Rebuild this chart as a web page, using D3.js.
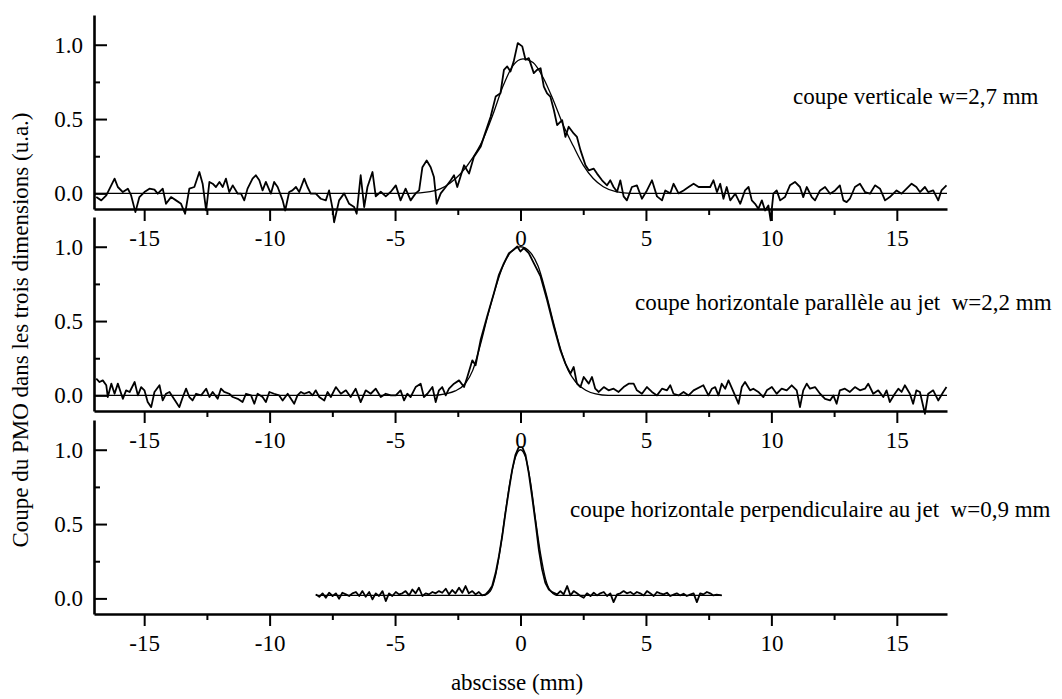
<!DOCTYPE html>
<html>
<head>
<meta charset="utf-8">
<script src="https://cdn.jsdelivr.net/npm/d3@7"></script>
<style>
    html, body { margin: 0; padding: 0; background: #fff; }
    svg text { font-family: "Liberation Serif", "Times New Roman", serif; fill: #000; }
</style>
</head>
<body>
<svg id="profiles"></svg>
<script>
// values: [abscisse (mm), signal (u.a.)]
const panelTitles = [
    'coupe verticale w=2,7 mm',
    'coupe horizontale parallèle au jet\u00a0 w=2,2 mm',
    'coupe horizontale perpendiculaire au jet\u00a0 w=0,9 mm'
];
const xMajorTicks = [-15, -10, -5, 0, 5, 10, 15];
const xMinorTicks = [-12.5, -7.5, -2.5, 2.5, 7.5, 12.5];
const yMajorTicks = [0, 0.5, 1.0];
const yMinorTicks = [0.25, 0.75];
const xDomain = [-17, 17];
const yDomain = [-0.105, 1.2];

const verticaleSignal = [
    [-16.91,-0.025],[-16.71,-0.047],[-16.51,-0.014],[-16.18,0.099],[-16.05,0.043],[-15.85,0.009],[-15.65,0.032],[-15.52,-0.014],
    [-15.35,-0.126],[-15.19,-0.025],[-14.99,0.009],[-14.79,0.032],[-14.59,0.025],[-14.46,-0.002],[-14.26,0.032],[-14.13,-0.07],
    [-13.93,-0.025],[-13.73,-0.047],[-13.53,-0.07],[-13.37,-0.137],[-13.2,0.032],[-13.0,0.043],[-12.8,0.144],[-12.67,0.065],
    [-12.53,-0.115],[-12.4,0.077],[-12.27,0.065],[-12.14,0.043],[-12.0,0.077],[-11.87,0.043],[-11.74,0.099],[-11.61,0.009],
    [-11.47,0.054],[-11.27,-0.002],[-11.14,-0.002],[-11.01,-0.047],[-10.88,0.032],[-10.68,0.099],[-10.55,0.122],[-10.41,0.088],
    [-10.28,0.02],[-10.15,0.077],[-9.95,-0.002],[-9.82,0.077],[-9.68,0.043],[-9.48,-0.047],[-9.38,-0.115],[-9.22,0.009],
    [-9.09,0.02],[-8.95,0.043],[-8.82,0.009],[-8.62,0.099],[-8.49,0.043],[-8.36,-0.002],[-8.16,-0.002],[-7.96,-0.036],
    [-7.76,-0.047],[-7.63,0.02],[-7.49,-0.104],[-7.43,-0.194],[-7.23,-0.047],[-7.03,0.0],[-6.83,-0.07],[-6.63,-0.092],
    [-6.53,-0.137],[-6.37,0.122],[-6.23,-0.092],[-6.1,0.043],[-5.9,0.144],[-5.77,-0.02],[-5.57,0.011],[-5.37,-0.02],
    [-5.17,0.011],[-4.97,0.054],[-4.78,-0.047],[-4.58,0.032],[-4.38,-0.047],[-4.18,0.0],[-4.04,0.02],[-3.91,0.176],
    [-3.74,0.221],[-3.58,0.176],[-3.45,0.11],[-3.34,-0.07],[-3.18,0.0],[-2.98,0.043],[-2.78,0.088],[-2.65,0.122],
    [-2.52,0.043],[-2.25,0.189],[-2.05,0.133],[-1.86,0.245],[-1.59,0.313],[-1.46,0.38],[-1.19,0.516],[-0.99,0.651],
    [-0.8,0.673],[-0.66,0.831],[-0.53,0.854],[-0.4,0.82],[-0.27,0.888],[-0.11,1.011],[0.07,0.989],[0.2,0.899],
    [0.33,0.91],[0.53,0.809],[0.66,0.831],[0.8,0.842],[0.93,0.718],[1.06,0.673],[1.19,0.651],[1.33,0.561],
    [1.46,0.459],[1.66,0.493],[1.79,0.38],[1.92,0.448],[2.12,0.403],[2.25,0.38],[2.39,0.291],[2.59,0.189],
    [2.72,0.155],[2.92,0.166],[3.05,0.133],[3.25,0.088],[3.45,0.054],[3.58,0.088],[3.71,0.043],[3.85,0.011],
    [3.98,0.088],[4.11,-0.02],[4.24,-0.047],[4.44,0.043],[4.64,0.054],[4.84,-0.036],[5.04,0.02],[5.24,0.088],
    [5.44,-0.02],[5.64,-0.047],[5.77,0.02],[5.97,0.0],[6.1,0.065],[6.3,0.0],[6.5,0.02],[6.7,0.043],
    [6.9,0.065],[7.1,0.043],[7.36,0.043],[7.56,0.043],[7.69,0.088],[7.83,0.009],[7.96,0.065],[8.09,-0.036],
    [8.22,0.043],[8.36,-0.047],[8.56,-0.002],[8.76,-0.07],[8.95,0.02],[9.09,0.043],[9.22,-0.047],[9.35,-0.07],
    [9.48,-0.104],[9.62,-0.047],[9.75,-0.115],[9.88,-0.081],[9.97,-0.182],[10.08,-0.002],[10.21,0.02],[10.35,-0.047],
    [10.54,-0.025],[10.74,0.054],[10.94,0.077],[11.14,0.043],[11.27,-0.025],[11.41,0.043],[11.61,-0.025],[11.74,-0.047],
    [11.94,0.02],[12.14,0.043],[12.34,-0.002],[12.54,0.02],[12.73,0.054],[12.87,-0.047],[13.0,-0.059],[13.13,-0.036],
    [13.33,0.043],[13.53,0.065],[13.73,0.009],[13.93,-0.002],[14.13,0.054],[14.33,0.032],[14.53,-0.047],[14.72,-0.025],
    [14.99,0.02],[15.19,-0.002],[15.39,0.032],[15.59,0.065],[15.78,0.043],[15.92,0.009],[16.12,0.043],[16.25,0.009],
    [16.45,0.02],[16.65,-0.047],[16.78,0.02],[16.98,0.054]
];
const verticaleFit = [
    [-17,0],[-4.4,0],[-3.6,0.012],[-3.2,0.03],[-2.8,0.07],[-2.4,0.13],[-1.9,0.24],[-1.5,0.36],[-1.1,0.53],
    [-0.7,0.72],[-0.3,0.86],[0.1,0.905],[0.5,0.88],[0.9,0.78],[1.3,0.63],[1.7,0.46],[2.1,0.32],[2.5,0.19],
    [2.9,0.1],[3.3,0.045],[3.8,0.012],[4.4,0],[17,0]
];

const paralleleSignal = [
    [-16.91,0.113],[-16.78,0.09],[-16.65,0.101],[-16.51,0.068],[-16.45,-0.011],[-16.31,0.079],[-16.18,0.011],[-16.05,0.079],
    [-15.85,-0.023],[-15.72,0.034],[-15.58,0.023],[-15.38,0.09],[-15.25,0.0],[-15.12,0.056],[-14.99,0.034],[-14.86,-0.045],
    [-14.72,-0.079],[-14.59,0.023],[-14.39,0.068],[-14.26,-0.034],[-14.13,0.011],[-13.99,0.023],[-13.86,-0.011],[-13.73,-0.045],
    [-13.6,-0.079],[-13.46,-0.011],[-13.33,0.045],[-13.2,-0.011],[-13.07,-0.034],[-12.93,0.011],[-12.73,0.0],[-12.53,0.045],
    [-12.4,-0.011],[-12.27,0.023],[-12.07,-0.023],[-11.94,0.045],[-11.81,0.023],[-11.61,0.011],[-11.47,-0.011],[-11.27,-0.023],
    [-11.08,-0.045],[-10.94,0.011],[-10.74,0.0],[-10.61,-0.056],[-10.48,0.011],[-10.28,-0.011],[-10.15,-0.045],[-10.01,0.023],
    [-9.82,0.011],[-9.62,0.0],[-9.48,-0.034],[-9.28,0.011],[-9.15,-0.023],[-9.02,-0.056],[-8.89,0.0],[-8.75,0.023],
    [-8.62,0.011],[-8.42,0.023],[-8.29,0.0],[-8.16,0.034],[-8.02,-0.011],[-7.82,-0.034],[-7.69,0.023],[-7.56,-0.011],
    [-7.36,0.056],[-7.16,0.011],[-6.96,0.034],[-6.77,-0.011],[-6.57,0.045],[-6.37,-0.045],[-6.17,0.034],[-5.97,0.011],
    [-5.77,0.045],[-5.57,-0.011],[-5.37,0.011],[-5.17,0.0],[-4.97,0.0],[-4.78,0.034],[-4.64,-0.034],[-4.51,0.011],
    [-4.38,-0.011],[-4.18,0.056],[-3.98,0.079],[-3.85,-0.011],[-3.71,0.011],[-3.51,0.056],[-3.38,-0.045],[-3.25,0.034],
    [-3.12,0.056],[-2.98,0.0],[-2.85,0.045],[-2.65,0.079],[-2.45,0.101],[-2.25,0.056],[-2.12,0.124],[-1.92,0.236],
    [-1.79,0.203],[-1.59,0.372],[-1.33,0.53],[-1.06,0.687],[-0.86,0.811],[-0.66,0.89],[-0.46,0.957],[-0.27,0.98],
    [-0.13,1.002],[0.0,0.968],[0.13,0.991],[0.33,0.957],[0.53,0.89],[0.8,0.8],[1.06,0.642],[1.33,0.462],
    [1.59,0.304],[1.79,0.214],[1.99,0.146],[2.12,0.191],[2.25,0.079],[2.39,0.056],[2.52,0.124],[2.72,0.079],
    [2.85,0.124],[2.98,0.045],[3.12,0.023],[3.32,0.056],[3.51,0.034],[3.71,0.045],[3.91,0.023],[4.11,0.056],
    [4.31,0.079],[4.51,0.079],[4.64,0.034],[4.84,0.011],[5.04,0.056],[5.24,0.023],[5.44,0.0],[5.64,0.045],
    [5.84,0.034],[5.97,0.068],[6.1,0.011],[6.3,0.0],[6.5,0.023],[6.7,0.0],[6.9,0.034],[7.29,0.068],
    [7.49,0.0],[7.63,0.045],[7.76,0.056],[7.89,0.0],[8.02,0.079],[8.16,0.045],[8.29,0.101],[8.49,0.023],
    [8.69,-0.056],[8.82,0.056],[8.95,0.09],[9.15,0.034],[9.28,0.045],[9.48,0.023],[9.68,-0.011],[9.82,0.034],
    [10.02,0.056],[10.21,0.011],[10.41,0.045],[10.61,0.034],[10.81,0.068],[11.01,0.034],[11.14,-0.079],[11.27,0.034],
    [11.41,0.079],[11.54,0.045],[11.74,0.056],[11.94,0.011],[12.14,-0.023],[12.34,-0.034],[12.47,0.0],[12.6,-0.056],
    [12.73,0.034],[12.93,0.045],[13.13,0.023],[13.33,0.056],[13.53,0.034],[13.73,0.045],[13.86,0.079],[14.06,0.011],
    [14.26,0.034],[14.46,-0.011],[14.59,0.034],[14.72,-0.045],[14.92,0.011],[15.06,0.045],[15.19,0.023],[15.32,0.068],
    [15.52,0.011],[15.65,-0.056],[15.78,0.034],[15.92,0.023],[16.12,-0.124],[16.25,0.011],[16.45,0.034],[16.65,-0.034],
    [16.85,0.023],[16.98,0.056]
];
const paralleleFit = [
    [-17,0],[-3.5,0],[-3.0,0.01],[-2.6,0.03],[-2.2,0.08],[-1.9,0.17],[-1.6,0.34],[-1.3,0.54],[-1.0,0.72],
    [-0.7,0.87],[-0.4,0.96],[0,1.0],[0.4,0.96],[0.7,0.87],[1.0,0.7],[1.3,0.5],[1.6,0.31],[1.9,0.17],
    [2.2,0.09],[2.6,0.035],[3.0,0.01],[3.5,0],[17,0]
];

const perpendSignal = [
    [-8.16,0.027],[-8.02,0.011],[-7.89,0.034],[-7.76,0.004],[-7.63,0.038],[-7.49,0.016],[-7.36,0.034],[-7.23,-0.002],
    [-7.1,0.038],[-6.96,0.027],[-6.83,0.016],[-6.7,0.034],[-6.56,0.043],[-6.43,0.016],[-6.3,0.049],[-6.17,0.011],
    [-6.03,0.043],[-5.9,-0.007],[-5.77,0.034],[-5.64,0.016],[-5.5,0.049],[-5.37,-0.018],[-5.24,0.034],[-5.11,0.016],
    [-4.97,0.043],[-4.84,0.027],[-4.71,0.034],[-4.58,0.049],[-4.44,0.02],[-4.31,0.06],[-4.18,0.034],[-4.05,0.072],
    [-3.91,0.016],[-3.78,0.034],[-3.65,0.027],[-3.51,0.043],[-3.38,0.034],[-3.25,0.049],[-3.12,0.038],[-2.98,0.065],
    [-2.85,0.027],[-2.72,0.056],[-2.59,0.034],[-2.45,0.072],[-2.32,0.038],[-2.19,0.083],[-2.06,0.034],[-1.92,0.049],
    [-1.79,0.027],[-1.66,0.043],[-1.53,0.02],[-1.39,0.027],[-1.26,0.05],[-1.13,0.083],[-0.99,0.172],[-0.86,0.284],
    [-0.73,0.418],[-0.6,0.575],[-0.46,0.732],[-0.33,0.866],[-0.2,0.966],[-0.07,1.018],[0.07,1.018],[0.2,0.966],
    [0.33,0.843],[0.46,0.687],[0.6,0.508],[0.73,0.329],[0.86,0.195],[0.99,0.105],[1.13,0.06],[1.26,0.042],
    [1.46,0.027],[1.59,0.049],[1.72,0.027],[1.86,0.083],[1.99,0.02],[2.12,0.049],[2.25,0.034],[2.39,0.016],
    [2.52,0.004],[2.65,0.034],[2.79,0.016],[2.92,0.038],[3.05,0.02],[3.18,0.034],[3.32,0.043],[3.45,0.016],
    [3.58,0.034],[3.71,-0.025],[3.85,0.027],[3.98,0.034],[4.11,0.049],[4.24,0.034],[4.38,0.043],[4.51,0.027],
    [4.64,0.043],[4.77,0.034],[4.91,0.02],[5.04,0.049],[5.17,0.034],[5.31,0.016],[5.44,0.043],[5.57,0.034],
    [5.7,0.027],[5.84,0.038],[5.97,0.016],[6.1,0.025],[6.23,0.034],[6.37,0.02],[6.5,0.031],[6.63,0.016],
    [6.76,0.025],[6.9,0.034],[7.03,-0.025],[7.16,0.034],[7.29,0.027],[7.43,0.043],[7.56,0.034],[7.69,0.02],
    [7.82,0.025],[8.02,0.02]
];
const perpendFit = [
    [-8.16,0.02],[-1.5,0.02],[-1.2,0.05],[-1.0,0.15],[-0.8,0.34],[-0.6,0.58],[-0.4,0.8],[-0.2,0.95],[0,1.0],
    [0.2,0.95],[0.4,0.78],[0.6,0.53],[0.8,0.3],[1.0,0.13],[1.2,0.05],[1.5,0.02],[8.02,0.02]
];

const WIDTH = 1062;
const HEIGHT = 699;
const LEFT = 94;
const RIGHT = 947;
const PANEL_TOPS = [15, 217, 420];
const PANEL_H = 194;
const FONT = 23;
const TITLE_POS = [{ x: 793, y: 104 }, { x: 635, y: 310 }, { x: 570, y: 517 }];

const panels = [
    { signal: verticaleSignal, fit: verticaleFit, title: panelTitles[0] },
    { signal: paralleleSignal, fit: paralleleFit, title: panelTitles[1] },
    { signal: perpendSignal, fit: perpendFit, title: panelTitles[2] }
];

const svg = d3.select('#profiles')
    .attr('width', WIDTH)
    .attr('height', HEIGHT);

let xScale = d3.scaleLinear().domain(xDomain).range([LEFT, RIGHT]);

panels.forEach((p, i) => {
    const top = PANEL_TOPS[i];
    let yScale = d3.scaleLinear().domain(yDomain).range([top + PANEL_H, top]);
    const g = svg.append('g');

    /** minor ticks first, main axes on top */
    g.append('g')
        .attr('transform', `translate(0, ${yScale(yDomain[0])})`)
        .call(d3.axisBottom(xScale).tickValues(xMinorTicks).tickSize(6).tickSizeOuter(0).tickFormat(''))
        .call(a => a.select('.domain').remove());

    g.append('g')
        .attr('transform', `translate(${LEFT}, 0)`)
        .call(d3.axisLeft(yScale).tickValues(yMinorTicks).tickSize(-6).tickSizeOuter(0).tickFormat(''))
        .call(a => a.select('.domain').remove());

    g.append('g')
        .attr('transform', `translate(0, ${yScale(yDomain[0])})`)
        .call(d3.axisBottom(xScale).tickValues(xMajorTicks).tickSize(12).tickSizeOuter(0).tickPadding(9)
            .tickFormat(d => String(d)));

    g.append('g')
        .attr('transform', `translate(${LEFT}, 0)`)
        .call(d3.axisLeft(yScale).tickValues(yMajorTicks).tickSize(-13).tickSizeOuter(0).tickPadding(11)
            .tickFormat(d3.format('.1f')));

    g.selectAll('.tick line').style('stroke', '#000').style('stroke-width', 2);
    g.selectAll('.domain').style('stroke', '#000').style('stroke-width', 2.6);
    g.selectAll('.tick text')
        .style('font-size', `${FONT}px`)
        .style('font-family', '"Liberation Serif", serif')
        .style('fill', '#000');

    /** fit curve (thin) and measured profile */
    g.append('path')
        .datum(p.fit)
        .attr('d', d3.line().x(d => xScale(d[0])).y(d => yScale(d[1])).curve(d3.curveMonotoneX))
        .style('fill', 'none')
        .style('stroke', '#000')
        .style('stroke-width', 1.3);

    g.append('path')
        .datum(p.signal)
        .attr('d', d3.line().x(d => xScale(d[0])).y(d => yScale(d[1])))
        .style('fill', 'none')
        .style('stroke', '#000')
        .style('stroke-width', 1.8)
        .style('stroke-linejoin', 'round');

    g.append('text')
        .attr('x', TITLE_POS[i].x)
        .attr('y', TITLE_POS[i].y)
        .style('font-size', `${FONT}px`)
        .text(p.title);
});

svg.append('text')
    .attr('transform', 'translate(28, 330) rotate(-90)')
    .attr('text-anchor', 'middle')
    .style('font-size', `${FONT}px`)
    .text('Coupe du PMO dans les trois dimensions (u.a.)');

svg.append('text')
    .attr('x', 517)
    .attr('y', 690)
    .attr('text-anchor', 'middle')
    .style('font-size', `${FONT}px`)
    .text('abscisse (mm)');
</script>
</body>
</html>
